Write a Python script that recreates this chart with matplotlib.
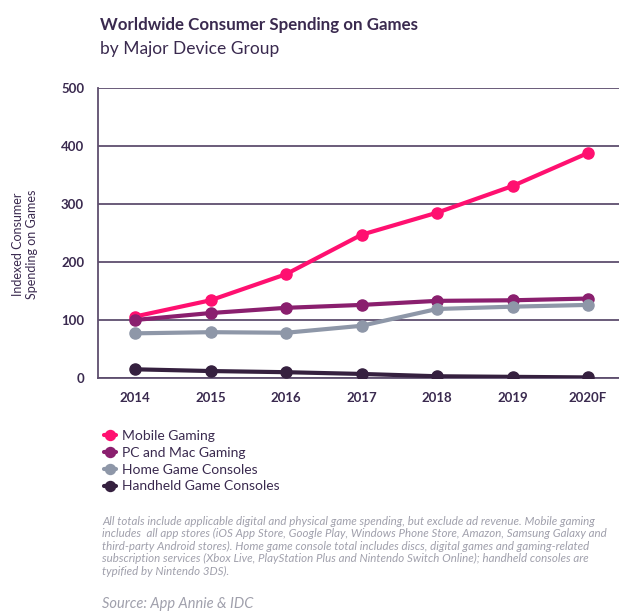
import matplotlib.pyplot as plt

years = ["2014", "2015", "2016", "2017", "2018", "2019", "2020F"]
mobile = [106, 134, 179, 247, 285, 331, 388]
pc_mac = [100, 112, 121, 126, 133, 134, 137]
home = [77, 79, 78, 90, 119, 123, 126]
handheld = [15, 12, 10, 7, 3, 2, 1]

series_names = ["Mobile Gaming", "PC and Mac Gaming", "Home Game Consoles", "Handheld Game Consoles"]
series_colors = ["#FF1070", "#8A1F6E", "#8E97A8", "#35203F"]
TEXT = "#3A2A4F"
NOTE = "#A0A0AC"

plt.rcParams['font.family'] = ['Lato', 'DejaVu Sans']

fig = plt.figure(figsize=(6.19, 6.12), dpi=100)
ax = fig.add_axes([98 / 619, 1 - 378 / 612, 1 - 98 / 619, 290 / 612])

x = list(range(len(years)))
for vals, name, col in zip([mobile, pc_mac, home, handheld], series_names, series_colors):
    ax.plot(x, vals, color=col, lw=3, marker='o', ms=8, label=name, zorder=3, solid_capstyle='round')

ax.set_ylim(0, 500)
ax.set_xlim(-0.49, 6.41)
ax.set_yticks([0, 100, 200, 300, 400, 500])
ax.set_xticks(x)
ax.set_xticklabels(years)
ax.grid(axis='y', color="#5E4E6E", lw=1.3, zorder=1)
for s in ['top', 'right']:
    ax.spines[s].set_visible(False)
for s in ['left', 'bottom']:
    ax.spines[s].set_color("#5E4E6E")
    ax.spines[s].set_linewidth(1.3)
ax.tick_params(length=0, labelsize=9.5, labelcolor=TEXT, pad=10)
for lbl in ax.get_xticklabels() + ax.get_yticklabels():
    lbl.set_fontweight('bold')

# y label placed by hand, it sits a bit below the axes centre
fig.text(25 / 619, 1 - 244 / 612, "Indexed Consumer\nSpending on Games", rotation=90,
         ha='center', va='center', multialignment='center', color=TEXT, fontsize=9)

fig.text(100 / 619, 1 - 30 / 612, "Worldwide Consumer Spending on Games", fontsize=12.2,
         fontweight='bold', color=TEXT)
fig.text(100 / 619, 1 - 54 / 612, "by Major Device Group", fontsize=12.5, color=TEXT)

fig.legend(loc='upper left', bbox_to_anchor=(101 / 619, 1 - 427 / 612), frameon=False,
           fontsize=10, labelcolor=TEXT, handlelength=0.9, handletextpad=0.4,
           labelspacing=0.35, markerscale=0.9, borderaxespad=0, borderpad=0.2)

note = ("All totals include applicable digital and physical game spending, but exclude ad revenue. Mobile gaming\n"
        "includes  all app stores (iOS App Store, Google Play, Windows Phone Store, Amazon, Samsung Galaxy and\n"
        "third-party Android stores). Home game console total includes discs, digital games and gaming-related\n"
        "subscription services (Xbox Live, PlayStation Plus and Nintendo Switch Online); handheld consoles are\n"
        "typified by Nintendo 3DS).")
fig.text(102 / 619, 1 - 516 / 612, note, fontsize=8.25, style='italic', color=NOTE,
         va='top', linespacing=1.15)
fig.text(102 / 619, 1 - 608 / 612, "Source: App Annie & IDC", fontsize=10.5, style='italic',
         color=NOTE, va='baseline')

fig.savefig("out.png", dpi=100)
